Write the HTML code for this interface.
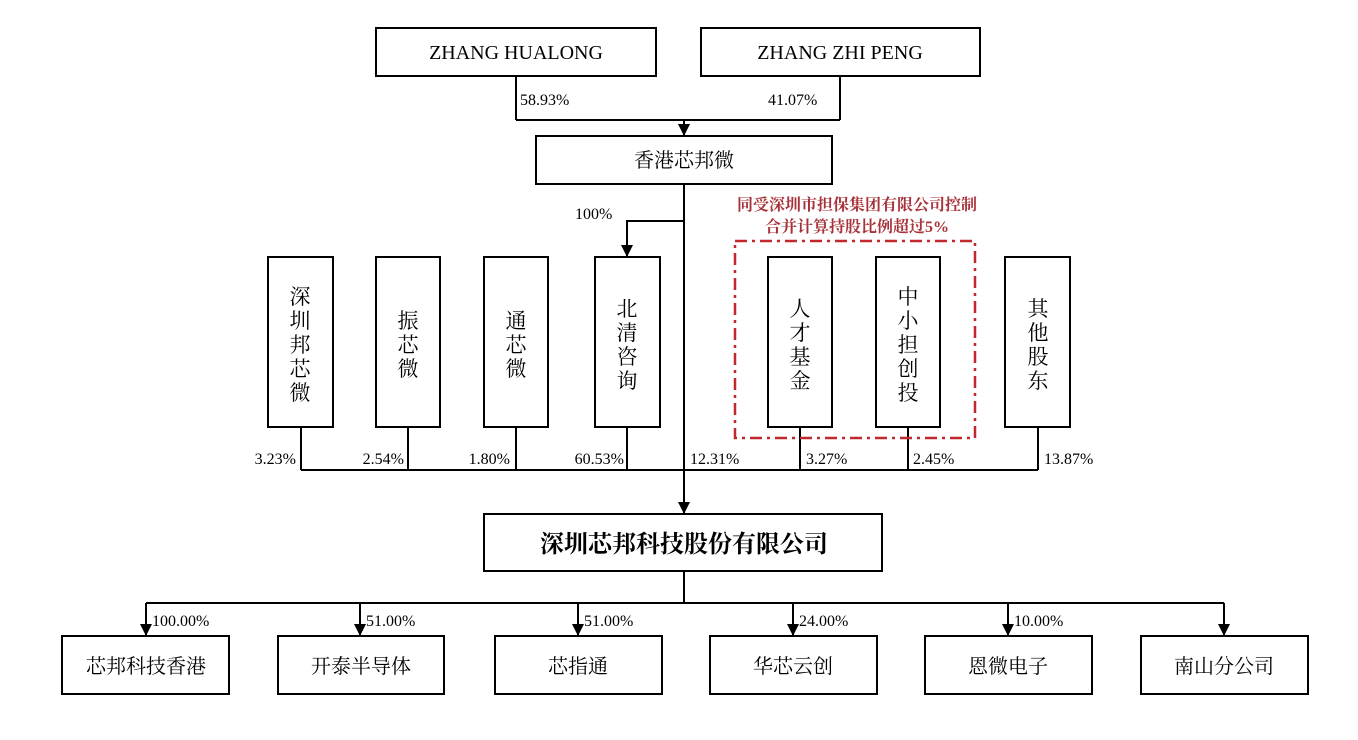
<!DOCTYPE html>
<html><head><meta charset="utf-8"><style>
html,body{margin:0;padding:0;background:#fff;}
svg{display:block;font-family:"Liberation Serif","Noto Serif CJK SC",serif;}
</style></head><body>
<svg width="1358" height="740" viewBox="0 0 1358 740" xmlns="http://www.w3.org/2000/svg">
<defs>
<marker id="b" viewBox="0 0 10 10" markerWidth="12" markerHeight="12" refX="5" refY="10" orient="0" markerUnits="userSpaceOnUse"><path d="M0,0 L10,0 L5,10 Z" fill="#000"/></marker></defs>
<g fill="none" stroke="#000" stroke-width="2">
<rect x="376" y="28" width="280" height="48"/>
<rect x="701" y="28" width="279" height="48"/>
<rect x="536" y="136" width="296" height="48"/>
<path d="M516 76V120M840 76V120M516 120H840"/>
<path d="M684 120V136" marker-end="url(#b)"/>
<path d="M684 184V514" marker-end="url(#b)"/>
<path d="M684 221H627V257" marker-end="url(#b)"/>
<rect x="268" y="257" width="65" height="170"/>
<rect x="376" y="257" width="64" height="170"/>
<rect x="484" y="257" width="64" height="170"/>
<rect x="595" y="257" width="65" height="170"/>
<rect x="768" y="257" width="64" height="170"/>
<rect x="876" y="257" width="64" height="170"/>
<rect x="1005" y="257" width="65" height="170"/>
<path d="M301 427V470M408 427V470M516 427V470M627 427V470M800 427V470M908 427V470M1038 427V470M301 470H1038"/>
<rect x="484" y="514" width="398" height="57"/>
<path d="M684 571V603M146 603H1224"/>
<path d="M146 603V636" marker-end="url(#b)"/>
<path d="M360 603V636" marker-end="url(#b)"/>
<path d="M578 603V636" marker-end="url(#b)"/>
<path d="M793 603V636" marker-end="url(#b)"/>
<path d="M1008 603V636" marker-end="url(#b)"/>
<path d="M1224 603V636" marker-end="url(#b)"/>
<rect x="62" y="636" width="167" height="58"/>
<rect x="278" y="636" width="166" height="58"/>
<rect x="495" y="636" width="167" height="58"/>
<rect x="710" y="636" width="167" height="58"/>
<rect x="925" y="636" width="167" height="58"/>
<rect x="1141" y="636" width="167" height="58"/>
</g>
<rect x="735" y="241" width="240" height="197" fill="none" stroke="#c0282e" stroke-width="2.5" stroke-dasharray="12,5,3,5"/>
<g font-size="20" text-anchor="middle" fill="#000">
<text x="516" y="59">ZHANG HUALONG</text>
<text x="840" y="59">ZHANG ZHI PENG</text>
<text x="684" y="167">香港芯邦微</text>
<text x="684" y="552" font-size="24" font-weight="bold">深圳芯邦科技股份有限公司</text>
<text x="146" y="673">芯邦科技香港</text>
<text x="361" y="673">开泰半导体</text>
<text x="578" y="673">芯指通</text>
<text x="793" y="673">华芯云创</text>
<text x="1008" y="673">恩微电子</text>
<text x="1224" y="673">南山分公司</text>
</g>
<g font-size="21" text-anchor="middle">
<text x="300" y="304">深</text><text x="300" y="328">圳</text><text x="300" y="352">邦</text><text x="300" y="376">芯</text><text x="300" y="400">微</text>
<text x="408" y="328">振</text><text x="408" y="352">芯</text><text x="408" y="376">微</text>
<text x="516" y="328">通</text><text x="516" y="352">芯</text><text x="516" y="376">微</text>
<text x="627" y="316">北</text><text x="627" y="340">清</text><text x="627" y="364">咨</text><text x="627" y="388">询</text>
<text x="800" y="316">人</text><text x="800" y="340">才</text><text x="800" y="364">基</text><text x="800" y="388">金</text>
<text x="908" y="304">中</text><text x="908" y="328">小</text><text x="908" y="352">担</text><text x="908" y="376">创</text><text x="908" y="400">投</text>
<text x="1038" y="316">其</text><text x="1038" y="340">他</text><text x="1038" y="364">股</text><text x="1038" y="388">东</text>
</g>
<g font-size="16">
<text x="520" y="105">58.93%</text>
<text x="768" y="105">41.07%</text>
<text x="575" y="219">100%</text>
<g text-anchor="end">
<text x="296" y="464">3.23%</text><text x="404" y="464">2.54%</text><text x="510" y="464">1.80%</text><text x="624" y="464">60.53%</text>
</g>
<text x="690" y="464">12.31%</text><text x="806" y="464">3.27%</text><text x="913" y="464">2.45%</text><text x="1044" y="464">13.87%</text>
<text x="152" y="626">100.00%</text><text x="366" y="626">51.00%</text><text x="584" y="626">51.00%</text>
<text x="799" y="626">24.00%</text><text x="1014" y="626">10.00%</text>
</g>
<g font-size="16" fill="#a8323a" text-anchor="middle" font-weight="bold">
<text x="857" y="210">同受深圳市担保集团有限公司控制</text>
<text x="857" y="232">合并计算持股比例超过5%</text>
</g>
</svg>
</body></html>
